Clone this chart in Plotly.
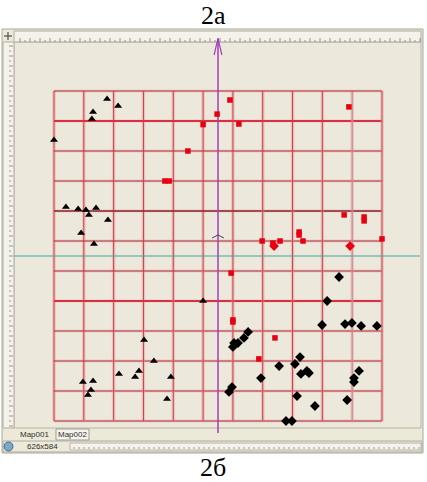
import plotly.graph_objects as go

W, H = 427, 482

# grid: 11 x 11 cells of 10 units, centred on the axes
grid_pos = [-55, -45, -35, -25, -15, -5, 5, 15, 25, 35, 45, 55]

tri_x = [-37.2, -33.5, -41.9, -42.3, -55.0, -51.0, -46.9, -44.3, -40.9, -43.3, -36.9, -45.9, -41.6,
         -5.0, -24.8, -21.5, -33.2, -26.5, -27.8, -15.8, -45.3, -41.9, -42.6, -43.6, -17.1]
tri_y = [52.3, 50.0, 48.0, 45.7, 38.7, 16.3, 15.7, 15.3, 16.0, 13.7, 12.0, 7.7, 4.0,
         -15.0, -28.0, -35.0, -39.3, -38.3, -40.3, -40.3, -42.0, -41.7, -44.7, -46.3, -47.7]

sq_x = [4.0, -0.3, -5.0, 7.0, -10.1, -17.8, -16.4, 43.9, 42.3, 49.0, 49.0, 27.2, 27.2,
        14.8, 18.4, 20.8, 28.5, 55.0, 4.4, 5.0, 5.0, 19.1, 13.7]
sq_y = [52.0, 47.3, 43.8, 44.0, 35.0, 25.0, 25.0, 49.7, 13.7, 13.0, 11.7, 8.0, 7.0,
        5.0, 4.3, 5.0, 5.0, 5.7, -5.7, -21.3, -22.0, -27.3, -34.3]

rdia_x = [18.8, 44.3]
rdia_y = [3.3, 3.3]

dia_x = [40.6, 36.6, 34.9, 42.6, 44.9, 48.0, 53.3, 10.1, 8.7, 6.7, 5.4, 5.0, 27.5, 25.8, 20.5,
         27.8, 29.8, 30.5, 47.3, 45.6, 45.6, 14.4, 4.7, 3.7, 26.5, 32.5, 43.3, 22.8, 24.8]
dia_y = [-7.0, -15.0, -23.0, -22.7, -22.3, -23.3, -23.3, -25.3, -27.3, -29.0, -29.0, -30.3, -33.7, -36.0, -36.7,
         -39.3, -38.3, -39.0, -38.3, -40.7, -42.0, -40.7, -43.7, -45.3, -46.7, -50.0, -48.0, -55.0, -55.0]

# pixel helpers for the window chrome (paper coords, margins are zero)
def px(x):
    return x / W

def py(y):
    return 1 - y / H

shapes = []

def prect(x0, y0, x1, y1, fill, line="rgba(0,0,0,0)", lw=1):
    shapes.append(dict(type="rect", xref="paper", yref="paper", x0=px(x0), x1=px(x1),
                       y0=py(y0), y1=py(y1), fillcolor=fill, line=dict(color=line, width=lw),
                       layer="below"))

def pline(x0, y0, x1, y1, color, lw=1, layer="below"):
    shapes.append(dict(type="line", xref="paper", yref="paper", x0=px(x0), x1=px(x1),
                       y0=py(y0), y1=py(y1), line=dict(color=color, width=lw), layer=layer))

# window frame
prect(2, 29, 423, 453, "#ECE9D8", "#A8A69C")
prect(14, 42, 421, 428, "#ECE8DC", "#B8B4A8")
# top ruler
prect(14, 31, 421, 42, "#F4F2EA", "#B0ADA2")
for i in range(0, 81):
    x = 20 + i * 5
    pline(x, 40 if i % 2 else 38, x, 42, "#7E7C76", 0.8)
# left ruler
prect(3, 42, 14, 428, "#F4F2EA", "#B0ADA2")
for i in range(0, 77):
    y = 46 + i * 5
    pline(9, y, 11 if i % 2 else 13, y, "#7E7C76", 0.8)
# corner icon
pline(4, 36, 12, 36, "#505050", 1.2)
pline(8, 32, 8, 40, "#505050", 1.2)
# bottom tabs and status bar
prect(56, 429, 89, 440, "#F6F4EC", "#9C9A90")
prect(3, 441, 422, 452, "#ECE9D8", "#B0ADA2")
prect(70, 443, 421, 450, "#F4F2EA", "#B8B5AA")
for i in range(0, 70):
    x = 74 + i * 5
    pline(x, 447, x, 449, "#8A8880", 0.8)
shapes.append(dict(type="circle", xref="paper", yref="paper", x0=px(4), x1=px(13),
                   y0=py(442), y1=py(451), fillcolor="#7FA8C8", line=dict(color="#3C6C8C", width=1)))

# grid lines: horizontals darker red, verticals pinker
for g in grid_pos:
    core_w = 1
    core_c = "#A82C3C"
    if g in (45, -15):
        core_w, core_c = 2, "#D83242"
    elif g == 15:
        core_w, core_c = 1.3, "#88202E"
    shapes.append(dict(type="line", x0=-55, x1=55, y0=g, y1=g, layer="below",
                       line=dict(color="rgba(235,140,140,0.3)", width=3)))
    shapes.append(dict(type="line", x0=-55, x1=55, y0=g, y1=g, layer="below",
                       line=dict(color=core_c, width=core_w)))
    vc = "#B98890" if g == 45 else "#C8404C"
    shapes.append(dict(type="line", x0=g, x1=g, y0=-55, y1=55, layer="below",
                       line=dict(color="rgba(238,140,140,0.4)", width=3.5)))
    shapes.append(dict(type="line", x0=g, x1=g, y0=-55, y1=55, layer="below",
                       line=dict(color=vc, width=1)))

# centre axes
shapes.append(dict(type="line", x0=-68.4, x1=67.7, y0=0, y1=0, layer="below",
                   line=dict(color="#3FA6A0", width=1)))
shapes.append(dict(type="line", x0=0, x1=0, y0=-59, y1=72.5, layer="below",
                   line=dict(color="#A040B8", width=1.5)))
shapes.append(dict(type="line", x0=0, x1=-1.3, y0=72.5, y1=67, layer="below",
                   line=dict(color="#A040B8", width=1.2)))
shapes.append(dict(type="line", x0=0, x1=1.3, y0=72.5, y1=67, layer="below",
                   line=dict(color="#A040B8", width=1.2)))
shapes.append(dict(type="path", path="M -2,6 L 0,7 L 2,6", layer="below",
                   line=dict(color="#404060", width=1)))

fig = go.Figure()
fig.add_trace(go.Scatter(x=tri_x, y=tri_y, mode="markers",
                         marker=dict(symbol="triangle-up", size=7, color="black")))
fig.add_trace(go.Scatter(x=sq_x, y=sq_y, mode="markers",
                         marker=dict(symbol="square", size=5.5, color="#E80010")))
fig.add_trace(go.Scatter(x=rdia_x, y=rdia_y, mode="markers",
                         marker=dict(symbol="diamond", size=7.5, color="#E80010")))
fig.add_trace(go.Scatter(x=dia_x, y=dia_y, mode="markers",
                         marker=dict(symbol="diamond", size=7.5, color="black")))

ann = [
    dict(text="2а", x=px(213), y=py(15), font=dict(family="Liberation Serif", size=26, color="black")),
    dict(text="2б", x=px(213), y=py(467), font=dict(family="Liberation Serif", size=26, color="black")),
    dict(text="Map001", x=px(34), y=py(434), font=dict(family="Liberation Sans", size=8, color="#303030")),
    dict(text="Map002", x=px(72), y=py(434), font=dict(family="Liberation Sans", size=8, color="#303030")),
    dict(text="626x584", x=px(42), y=py(446), font=dict(family="Liberation Sans", size=8, color="#303030")),
]
for a in ann:
    a.update(xref="paper", yref="paper", showarrow=False, xanchor="center", yanchor="middle")

fig.update_layout(
    width=W, height=H,
    margin=dict(l=0, r=0, t=0, b=0),
    paper_bgcolor="white", plot_bgcolor="white",
    showlegend=False,
    shapes=shapes,
    annotations=ann,
    xaxis=dict(range=[-218 / 2.982, 209 / 2.982], visible=False, fixedrange=True),
    yaxis=dict(range=[-226 / 3.0, 256 / 3.0], visible=False, fixedrange=True),
)

# page body has a default 8px margin; drop it so the figure sits at the window origin
fig.write_html("out.html", config={"displayModeBar": False},
               post_script="document.body.style.margin='0';")
